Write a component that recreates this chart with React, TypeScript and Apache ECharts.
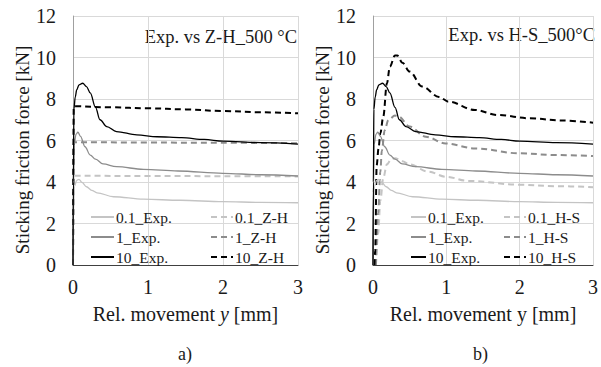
import React, { useEffect, useRef } from "react";
import * as echarts from "echarts";

// Experimental curves (same in both panels)
const exp01X = [0, 0.005, 0.02, 0.05, 0.08, 0.12, 0.18, 0.25, 0.32, 0.54, 0.94, 1.43, 2.0, 2.5, 3.0];
const exp01Y = [0, 2.5, 3.8, 4.08, 4.13, 3.98, 3.77, 3.6, 3.48, 3.29, 3.17, 3.12, 3.05, 3.02, 3.0];
const exp1X = [0, 0.005, 0.015, 0.04, 0.065, 0.1, 0.16, 0.23, 0.3, 0.4, 0.58, 0.94, 1.4, 2.0, 2.5, 3.0];
const exp1Y = [0, 3.5, 5.8, 6.3, 6.4, 6.2, 5.7, 5.3, 5.1, 4.87, 4.74, 4.61, 4.53, 4.42, 4.35, 4.29];
const exp10X = [0, 0.005, 0.012, 0.03, 0.05, 0.08, 0.13, 0.18, 0.23, 0.3, 0.36, 0.45, 0.58, 0.85, 1.12, 1.45, 1.75, 2.0, 2.5, 3.0];
const exp10Y = [0, 4, 7.5, 8.1, 8.45, 8.68, 8.76, 8.6, 8.3, 7.6, 7.0, 6.67, 6.43, 6.27, 6.18, 6.14, 6.05, 5.97, 5.9, 5.83];

// Z-H model curves (panel a)
const zh01X = [0, 0.01, 1.0, 2.0, 3.0];
const zh01Y = [0, 4.3, 4.29, 4.28, 4.27];
const zh1X = [0, 0.01, 1.0, 2.0, 3.0];
const zh1Y = [0, 5.92, 5.9, 5.89, 5.87];
const zh10X = [0, 0.01, 0.5, 1.0, 1.5, 2.0, 2.5, 3.0];
const zh10Y = [0, 7.65, 7.6, 7.55, 7.5, 7.42, 7.36, 7.31];

// H-S model curves (panel b)
const hs01X = [0.04, 0.07, 0.1, 0.14, 0.19, 0.25, 0.3, 0.4, 0.5, 0.75, 1.0, 1.3, 2.0, 2.5, 3.0];
const hs01Y = [0, 1.5, 3.1, 4.2, 4.85, 5.1, 5.15, 5.0, 4.85, 4.5, 4.25, 4.05, 3.87, 3.8, 3.75];
const hs1X = [0.04, 0.07, 0.1, 0.12, 0.16, 0.21, 0.3, 0.35, 0.5, 0.72, 0.99, 1.39, 2.0, 2.5, 3.0];
const hs1Y = [0, 2.5, 4.5, 5.5, 6.5, 6.99, 7.2, 7.15, 6.67, 6.18, 5.86, 5.62, 5.38, 5.3, 5.25];
const hs10X = [0.02, 0.03, 0.05, 0.075, 0.1, 0.14, 0.19, 0.23, 0.3, 0.33, 0.4, 0.5, 0.67, 0.9, 1.03, 1.39, 1.7, 2.14, 2.59, 3.0];
const hs10Y = [0, 0.7, 4.8, 5.6, 6.35, 7.15, 8.76, 9.56, 10.1, 10.1, 9.75, 9.32, 8.6, 8.1, 7.87, 7.47, 7.23, 7.07, 6.96, 6.86];

const yTicks = [0, 2, 4, 6, 8, 10, 12];
const xTicks = [0, 1, 2, 3];

const FONT = "Liberation Serif";
const FONTCSS = "'Liberation Serif', 'Times New Roman', serif";
const TXT = "#1a1a1a";
const C10 = "#000000";
const C1 = "#8c8c8c";
const C01 = "#c4c4c4";
const FS = 20;
const FSY = 19;

const zip = (xs: number[], ys: number[]) => xs.map((x, i) => [x, ys[i]]);

function makeSeries(name: string, xs: number[], ys: number[], idx: number, color: string, dashed: boolean, width: number) {
  return {
    name,
    type: "line",
    xAxisIndex: idx,
    yAxisIndex: idx,
    data: zip(xs, ys),
    showSymbol: false,
    symbol: "none",
    smooth: 0.35,
    smoothMonotone: "x",
    lineStyle: { color, width, type: dashed ? [6, 4] : "solid" },
    itemStyle: { color },
  };
}

function axisX(idx: number, italic: boolean) {
  return {
    type: "value",
    gridIndex: idx,
    min: xTicks[0],
    max: xTicks[xTicks.length - 1],
    interval: 1,
    name: italic ? "{n|Rel. movement }{i|y}{n| [mm]}" : "{n|Rel. movement y [mm]}",
    nameLocation: "middle",
    nameGap: 39,
    nameTextStyle: {
      fontFamily: FONT,
      fontSize: FS,
      color: TXT,
      rich: {
        n: { fontFamily: FONT, fontSize: FS, color: TXT },
        i: { fontFamily: FONT, fontSize: FS, color: TXT, fontStyle: "italic" },
      },
    },
    axisLine: { show: true, lineStyle: { color: "#404040", width: 1 } },
    axisTick: { show: false },
    axisLabel: {
      fontFamily: FONT,
      fontSize: FS,
      color: TXT,
      margin: 12,
      formatter: (v: number) => `{t|${v}}`,
      rich: { t: { fontFamily: FONT, fontSize: FS, color: TXT } },
    },
    splitLine: { show: true, lineStyle: { color: "#d9d9d9", width: 1 } },
  };
}

function axisY(idx: number) {
  return {
    type: "value",
    gridIndex: idx,
    min: yTicks[0],
    max: yTicks[yTicks.length - 1],
    interval: 2,
    name: "{n|Sticking friction force [kN]}",
    nameLocation: "middle",
    nameGap: 39,
    nameTextStyle: {
      fontFamily: FONT,
      fontSize: FSY,
      color: TXT,
      padding: [0, 19, 0, 0],
      rich: { n: { fontFamily: FONT, fontSize: FSY, color: TXT } },
    },
    axisLine: { show: true, lineStyle: { color: "#a0a0a0", width: 1 } },
    axisTick: { show: false },
    axisLabel: {
      fontFamily: FONT,
      fontSize: FS,
      color: TXT,
      margin: 17,
      formatter: (v: number) => `{t|${v}}`,
      rich: { t: { fontFamily: FONT, fontSize: FS, color: TXT } },
    },
    splitLine: { show: true, lineStyle: { color: "#d9d9d9", width: 1 } },
  };
}

function legendCol(left: number, names: string[], itemWidth: number) {
  return {
    orient: "vertical",
    left,
    top: 209,
    padding: 0,
    itemWidth,
    itemHeight: 14,
    itemGap: 4,
    data: names,
    selectedMode: false,
    itemStyle: { opacity: 0, borderWidth: 0 },
    textStyle: { fontFamily: FONT, fontSize: 15.5, color: TXT, padding: [0, 0, 0, -3] },
  };
}

export default function App() {
  const ref = useRef<HTMLDivElement>(null);
  useEffect(() => {
    if (!ref.current) return;
    const chart = echarts.init(ref.current, undefined, { renderer: "svg" });
    chart.setOption({
      animation: false,
      backgroundColor: "#ffffff",
      textStyle: { fontFamily: FONT },
      grid: [
        { left: 73, right: 303, top: 16, bottom: 102 },
        { left: 373, right: 3, top: 16, bottom: 102 },
      ],
      xAxis: [axisX(0, true), axisX(1, false)],
      yAxis: [axisY(0), axisY(1)],
      legend: [
        legendCol(90, ["0.1_Exp.", "1_Exp.", "10_Exp."], 23),
        legendCol(210, ["0.1_Z-H", "1_Z-H", "10_Z-H"], 22),
        legendCol(410, ["0.1_Exp.", "1_Exp.", "10_Exp."], 15),
        legendCol(503, ["0.1_H-S", "1_H-S", "10_H-S"], 22),
      ],
      graphic: [
        { type: "text", right: 601 - 297, top: 27, style: { text: "Exp. vs Z-H_500 °C", font: `18.5px ${FONTCSS}`, fill: TXT } },
        { type: "text", right: 601 - 595, top: 25, style: { text: "Exp. vs H-S_500°C", font: `18.5px ${FONTCSS}`, fill: TXT } },
        { type: "text", left: 178, top: 345, style: { text: "a)", font: `18px ${FONTCSS}`, fill: TXT } },
        { type: "text", left: 473, top: 345, style: { text: "b)", font: `18px ${FONTCSS}`, fill: TXT } },
      ],
      series: [
        makeSeries("0.1_Z-H", zh01X, zh01Y, 0, C01, true, 2),
        makeSeries("1_Z-H", zh1X, zh1Y, 0, C1, true, 2),
        makeSeries("10_Z-H", zh10X, zh10Y, 0, C10, true, 2),
        makeSeries("0.1_Exp.", exp01X, exp01Y, 0, C01, false, 1.3),
        makeSeries("1_Exp.", exp1X, exp1Y, 0, C1, false, 1.3),
        makeSeries("10_Exp.", exp10X, exp10Y, 0, C10, false, 1.3),
        makeSeries("0.1_H-S", hs01X, hs01Y, 1, C01, true, 2),
        makeSeries("1_H-S", hs1X, hs1Y, 1, C1, true, 2),
        makeSeries("10_H-S", hs10X, hs10Y, 1, C10, true, 2),
        makeSeries("0.1_Exp.", exp01X, exp01Y, 1, C01, false, 1.3),
        makeSeries("1_Exp.", exp1X, exp1Y, 1, C1, false, 1.3),
        makeSeries("10_Exp.", exp10X, exp10Y, 1, C10, false, 1.3),
      ],
    });
    return () => chart.dispose();
  }, []);
  return (
    <div
      ref={ref}
      style={{ position: "fixed", left: 0, top: 0, width: 601, height: 367, background: "#ffffff" }}
    />
  );
}
